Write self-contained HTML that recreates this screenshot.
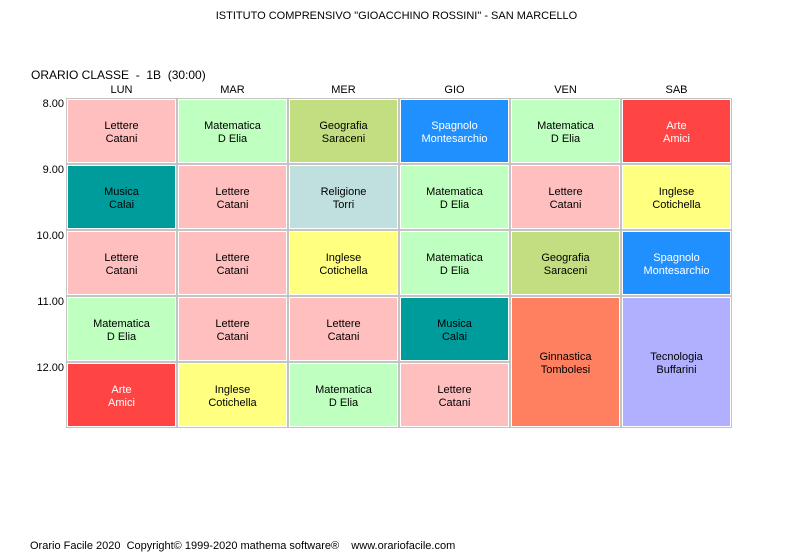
<!DOCTYPE html>
<html><head><meta charset="utf-8"><style>
body{margin:0;width:793px;height:559px;background:#fff;position:relative;font-family:"Liberation Sans",sans-serif;font-size:11px;color:#000;overflow:hidden}
.t{position:absolute;white-space:nowrap}
.c{position:absolute;box-sizing:border-box;border:1px solid #c4c4c4;padding:1px;background:#fff}
.c div{box-sizing:border-box;padding-top:3px;width:100%;height:100%;display:flex;flex-direction:column;align-items:center;justify-content:center;line-height:13px;text-align:center}
.h{position:absolute;top:84px;width:111px;text-align:center}
.r{position:absolute;left:30px;width:34px;text-align:right}
</style></head><body>
<div class="t" style="left:0;width:793px;text-align:center;top:10px">ISTITUTO COMPRENSIVO "GIOACCHINO ROSSINI" - SAN MARCELLO</div>
<div class="t" style="left:31px;top:68px;font-size:12px">ORARIO CLASSE &nbsp;- &nbsp;1B &nbsp;(30:00)</div>
<div class="h" style="left:66px">LUN</div><div class="h" style="left:177px">MAR</div><div class="h" style="left:288px">MER</div><div class="h" style="left:399px">GIO</div><div class="h" style="left:510px">VEN</div><div class="h" style="left:621px">SAB</div>
<div class="r t" style="top:98px">8.00</div><div class="r t" style="top:164px">9.00</div><div class="r t" style="top:230px">10.00</div><div class="r t" style="top:296px">11.00</div><div class="r t" style="top:362px">12.00</div>
<div id="g"></div>
<script>
var P='#ffbfbf',G='#bfffbf',O='#c2de80',B='#2090ff',R='#ff4444',T='#009c9c',L='#c0e0e0',Y='#ffff80',N='#ff8060',V='#b0b0ff';
var d=[
[0,0,1,P,'Lettere','Catani'],[0,1,1,T,'Musica','Calai'],[0,2,1,P,'Lettere','Catani'],[0,3,1,G,'Matematica','D Elia'],[0,4,1,R,'Arte','Amici',1],
[1,0,1,G,'Matematica','D Elia'],[1,1,1,P,'Lettere','Catani'],[1,2,1,P,'Lettere','Catani'],[1,3,1,P,'Lettere','Catani'],[1,4,1,Y,'Inglese','Cotichella'],
[2,0,1,O,'Geografia','Saraceni'],[2,1,1,L,'Religione','Torri'],[2,2,1,Y,'Inglese','Cotichella'],[2,3,1,P,'Lettere','Catani'],[2,4,1,G,'Matematica','D Elia'],
[3,0,1,B,'Spagnolo','Montesarchio',1],[3,1,1,G,'Matematica','D Elia'],[3,2,1,G,'Matematica','D Elia'],[3,3,1,T,'Musica','Calai'],[3,4,1,P,'Lettere','Catani'],
[4,0,1,G,'Matematica','D Elia'],[4,1,1,P,'Lettere','Catani'],[4,2,1,O,'Geografia','Saraceni'],[4,3,2,N,'Ginnastica','Tombolesi'],
[5,0,1,R,'Arte','Amici',1],[5,1,1,Y,'Inglese','Cotichella'],[5,2,1,B,'Spagnolo','Montesarchio',1],[5,3,2,V,'Tecnologia','Buffarini']];
var h='';d.forEach(function(a){h+='<div class="c" style="left:'+(66+111*a[0])+'px;top:'+(98+66*a[1])+'px;width:111px;height:'+(66*a[2])+'px"><div style="background:'+a[3]+(a[6]?';color:#fff':'')+'"><span>'+a[4]+'</span><span>'+a[5]+'</span></div></div>';});
document.getElementById('g').innerHTML=h;
</script>
<div class="t" style="left:30px;top:540px">Orario Facile 2020 &nbsp;Copyright© 1999-2020 mathema software® &nbsp;&nbsp;&nbsp;www.orariofacile.com</div>
</body></html>
